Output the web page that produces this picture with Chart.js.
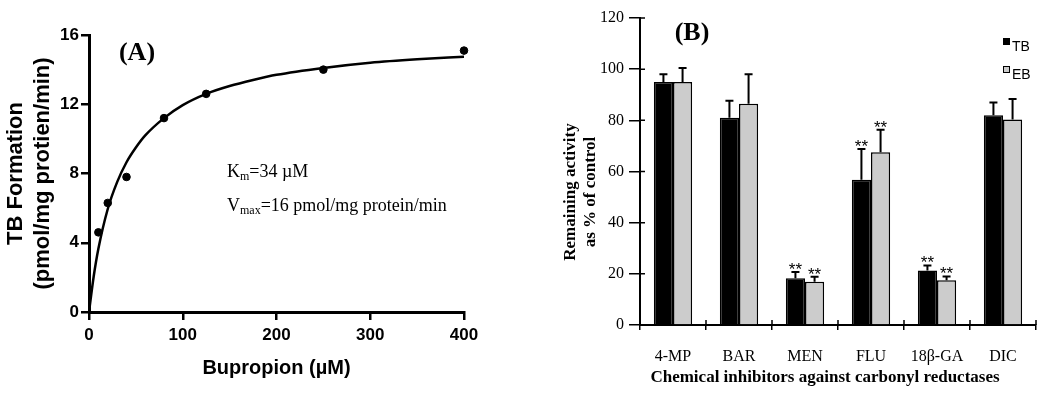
<!DOCTYPE html>
<html>
<head>
<meta charset="utf-8">
<script src="https://cdn.jsdelivr.net/npm/chart.js@4.4.0/dist/chart.umd.min.js"></script>
<style>
  html, body { margin: 0; padding: 0; background: #fff; }
  #wrap { position: relative; width: 1050px; height: 400px; }
  #kinetics { position: absolute; left: 0; top: 0; }
  #inhibition { position: absolute; left: 520px; top: 0; }
</style>
</head>
<body>
<div id="wrap">
  <canvas id="kinetics" width="520" height="400"></canvas>
  <canvas id="inhibition" width="530" height="400"></canvas>
</div>
<script>
// panel A - TB formation vs bupropion
const substrateConc = [10, 20, 40, 80, 125, 250, 400];
const tbFormation = [4.6, 6.3, 7.8, 11.2, 12.6, 14.0, 15.1];
// fitted curve
const fitConc = [0, 5, 10, 20, 30, 40, 50, 60, 80, 100, 125, 150, 175, 200, 250, 300, 350, 400];
const fitRate = [0, 2.05, 3.65, 5.95, 7.5, 8.65, 9.5, 10.2, 11.2, 11.95, 12.6, 13.05, 13.4, 13.7, 14.1, 14.4, 14.6, 14.75];
const xTicksA = [0, 100, 200, 300, 400];
const yTicksA = [0, 4, 8, 12, 16];

// panel B - inhibitors
const inhibitors = ['4-MP', 'BAR', 'MEN', 'FLU', '18β-GA', 'DIC'];
const tbActivity = [95, 81, 18.3, 56.8, 21.3, 82];
const tbError = [3, 6.7, 2.4, 12, 2, 5];
const ebActivity = [95, 86.5, 16.9, 67.5, 17.5, 80.3];
const ebError = [5.5, 11.5, 2, 8.8, 1.5, 8];
const tbSig = ['', '', '**', '**', '**', ''];
const ebSig = ['', '', '**', '**', '**', ''];
const yTicksB = [0, 20, 40, 60, 80, 100, 120];

const SANS = "'Liberation Sans', Arial, sans-serif";
const SERIF = "'Liberation Serif', 'Times New Roman', serif";

const panelAText = {
    id: 'panelAText',
    afterDraw(chart) {
        const ctx = chart.ctx;
        ctx.save();
        ctx.fillStyle = '#000';
        ctx.font = 'bold 26px ' + SERIF;
        ctx.textAlign = 'center';
        ctx.textBaseline = 'middle';
        ctx.fillText('(A)', 137, 53);

        ctx.textAlign = 'left';
        ctx.textBaseline = 'alphabetic';
        let x = 227;
        ctx.font = '18px ' + SERIF;
        ctx.fillText('K', x, 177);
        x += ctx.measureText('K').width;
        ctx.font = '12px ' + SERIF;
        ctx.fillText('m', x, 180);
        x += ctx.measureText('m').width;
        ctx.font = '18px ' + SERIF;
        ctx.fillText('=34 µM', x, 177);

        x = 227;
        ctx.fillText('V', x, 211);
        x += ctx.measureText('V').width;
        ctx.font = '12px ' + SERIF;
        ctx.fillText('max', x, 214);
        x += ctx.measureText('max').width;
        ctx.font = '18px ' + SERIF;
        ctx.fillText('=16 pmol/mg protein/min', x, 211);
        ctx.restore();
    }
};

new Chart(document.getElementById('kinetics'), {
    type: 'scatter',
    data: {
        datasets: [
            {
                label: 'fit',
                data: fitConc.map((c, i) => ({ x: c, y: fitRate[i] })),
                showLine: true,
                borderColor: '#000',
                borderWidth: 2.5,
                pointRadius: 0,
                cubicInterpolationMode: 'monotone',
                fill: false
            },
            {
                label: 'TB',
                data: substrateConc.map((c, i) => ({ x: c, y: tbFormation[i] })),
                pointRadius: 3.8,
                backgroundColor: '#000',
                borderColor: '#000',
                clip: false
            }
        ]
    },
    options: {
        responsive: false,
        animation: false,
        devicePixelRatio: 1,
        layout: { padding: { top: 35, right: 56, left: 0, bottom: 0 } },
        plugins: { legend: { display: false }, tooltip: { enabled: false } },
        scales: {
            x: {
                type: 'linear',
                min: 0,
                max: 400,
                afterBuildTicks: s => { s.ticks = xTicksA.map(v => ({ value: v })); },
                ticks: { color: '#000', font: { family: SANS, size: 17, weight: 'bold' }, padding: 5 },
                grid: { drawOnChartArea: false, tickLength: 8, lineWidth: 2.5, color: '#000' },
                border: { color: '#000', width: 3 },
                title: {
                    display: true,
                    text: 'Bupropion (µM)',
                    color: '#000',
                    font: { family: SANS, size: 20, weight: 'bold' },
                    padding: { top: 0, bottom: 20 }
                },
                afterFit: s => { s.height = 88; }
            },
            y: {
                min: 0,
                max: 16,
                afterBuildTicks: s => { s.ticks = yTicksA.map(v => ({ value: v })); },
                ticks: { color: '#000', font: { family: SANS, size: 17, weight: 'bold' }, padding: 2 },
                grid: { drawOnChartArea: false, tickLength: 8, lineWidth: 2.5, color: '#000' },
                border: { color: '#000', width: 3 },
                title: {
                    display: true,
                    text: ['TB Formation', '(pmol/mg protien/min)'],
                    color: '#000',
                    font: { family: SANS, size: 22, weight: 'bold', lineHeight: '27px' },
                    padding: { top: 2, bottom: 0 }
                },
                afterFit: s => { s.width = 89; }
            }
        }
    },
    plugins: [panelAText]
});

const errorBars = {
    id: 'errorBars',
    afterDatasetsDraw(chart) {
        const ctx = chart.ctx;
        const yScale = chart.scales.y;
        ctx.save();
        ctx.strokeStyle = '#000';
        ctx.fillStyle = '#000';
        ctx.lineWidth = 2;
        chart.data.datasets.forEach((ds, di) => {
            const meta = chart.getDatasetMeta(di);
            meta.data.forEach((bar, i) => {
                const top = yScale.getPixelForValue(ds.data[i] + ds.errors[i]);
                ctx.beginPath();
                ctx.moveTo(bar.x, bar.y);
                ctx.lineTo(bar.x, top);
                ctx.moveTo(bar.x - 4, top);
                ctx.lineTo(bar.x + 4, top);
                ctx.stroke();
                if (ds.marks[i]) {
                    ctx.font = '17px ' + SANS;
                    ctx.textAlign = 'center';
                    ctx.textBaseline = 'alphabetic';
                    ctx.fillText(ds.marks[i], bar.x, top + 3);
                }
            });
        });
        ctx.restore();
    }
};

const panelBText = {
    id: 'panelBText',
    afterDraw(chart) {
        const ctx = chart.ctx;
        const area = chart.chartArea;
        const xScale = chart.scales.x;
        const yScale = chart.scales.y;
        ctx.save();
        // inner halves of the crossing ticks
        ctx.strokeStyle = '#000';
        ctx.lineWidth = 1.5;
        ctx.beginPath();
        yTicksB.forEach(v => {
            const y = yScale.getPixelForValue(v);
            ctx.moveTo(area.left, y);
            ctx.lineTo(area.left + 5, y);
        });
        for (let i = 0; i <= inhibitors.length; i++) {
            const x = xScale.left + i * xScale.width / inhibitors.length;
            ctx.moveTo(x, area.bottom);
            ctx.lineTo(x, area.bottom - 5);
        }
        ctx.stroke();

        ctx.fillStyle = '#000';
        ctx.font = 'bold 26px ' + SERIF;
        ctx.textAlign = 'center';
        ctx.textBaseline = 'middle';
        ctx.fillText('(B)', 172, 33);

        // x title, sits a little left of the axis centre in the original
        ctx.font = 'bold 17px ' + SERIF;
        ctx.fillText('Chemical inhibitors against carbonyl reductases', 305, 378);

        // y title
        ctx.save();
        ctx.translate(0, 192);
        ctx.rotate(-Math.PI / 2);
        ctx.fillText('Remaining activity', 0, 51);
        ctx.fillText('as % of control', 0, 71);
        ctx.restore();

        // legend
        chart.data.datasets.forEach((ds, di) => {
            const y = 38 + di * 28;
            ctx.fillStyle = ds.backgroundColor;
            ctx.fillRect(483, y, 7, 7);
            ctx.lineWidth = 1;
            ctx.strokeRect(483.5, y + 0.5, 6, 6);
            ctx.fillStyle = '#000';
            ctx.font = '14px ' + SANS;
            ctx.textAlign = 'left';
            ctx.textBaseline = 'alphabetic';
            ctx.fillText(ds.label, 492, y + 13);
        });
        ctx.restore();
    }
};

new Chart(document.getElementById('inhibition'), {
    type: 'bar',
    data: {
        labels: inhibitors,
        datasets: [
            {
                label: 'TB',
                data: tbActivity,
                errors: tbError,
                marks: tbSig,
                backgroundColor: '#000000',
                borderColor: '#000',
                borderWidth: 1.5
            },
            {
                label: 'EB',
                data: ebActivity,
                errors: ebError,
                marks: ebSig,
                backgroundColor: '#cccccc',
                borderColor: '#000',
                borderWidth: 1.5
            }
        ]
    },
    options: {
        responsive: false,
        animation: false,
        devicePixelRatio: 1,
        layout: { padding: { top: 18, right: 14, left: 0, bottom: 0 } },
        datasets: { bar: { categoryPercentage: 0.58, barPercentage: 1 } },
        plugins: { legend: { display: false }, tooltip: { enabled: false } },
        scales: {
            x: {
                grid: { offset: true, drawOnChartArea: false, tickLength: 5, lineWidth: 1.5, color: '#000' },
                border: { color: '#000', width: 2 },
                ticks: { color: '#000', font: { family: SERIF, size: 16 }, padding: 17 },
                afterFit: s => { s.height = 75; }
            },
            y: {
                min: 0,
                max: 120,
                afterBuildTicks: s => { s.ticks = yTicksB.map(v => ({ value: v })); },
                ticks: { color: '#000', font: { family: SERIF, size: 16 }, padding: 5 },
                grid: { drawOnChartArea: false, tickLength: 11, lineWidth: 1.5, color: '#000' },
                border: { color: '#000', width: 2 },
                afterFit: s => { s.width = 120; }
            }
        }
    },
    plugins: [errorBars, panelBText]
});
</script>
</body>
</html>
